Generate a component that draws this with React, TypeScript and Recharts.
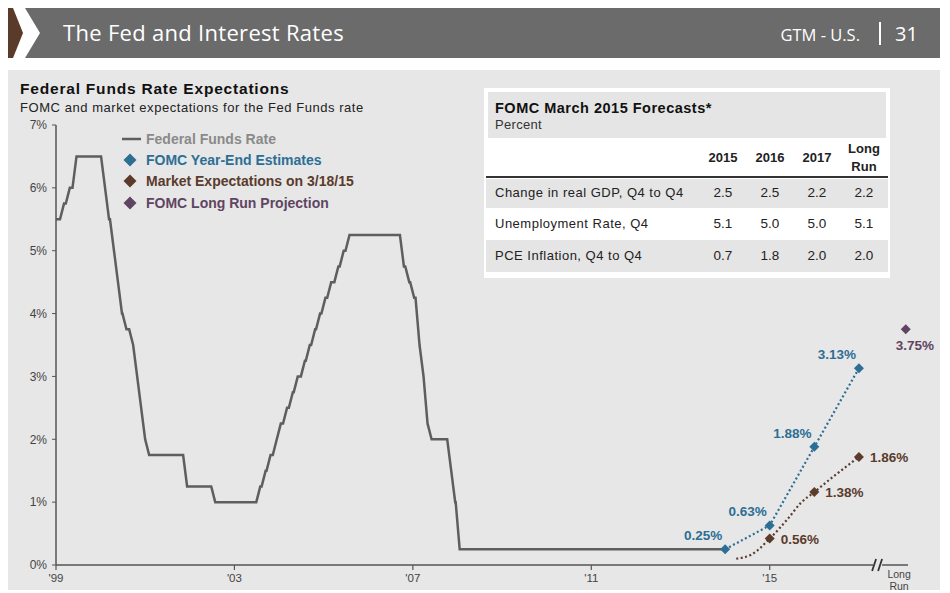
import React from "react";
import { ComposedChart, Line, Scatter, XAxis, YAxis } from "recharts";

// Federal funds target rate change points (decimal year, %)
const fedFundsDates = [
  2000.0, 2000.09, 2000.22, 2000.37, 2001.01, 2001.08, 2001.21, 2001.3, 2001.37, 2001.49,
  2001.64, 2001.71, 2001.75, 2001.85, 2001.94, 2002.85, 2003.48, 2004.49, 2004.61, 2004.72,
  2004.86, 2004.95, 2005.09, 2005.22, 2005.33, 2005.49, 2005.6, 2005.72, 2005.83, 2005.95,
  2006.08, 2006.24, 2006.36, 2006.49, 2007.71, 2007.83, 2007.94, 2008.06, 2008.08, 2008.21,
  2008.33, 2008.77, 2008.83, 2008.96, 2015.0,
];
const fedFundsRates = [
  5.5, 5.75, 6.0, 6.5, 6.0, 5.5, 5.0, 4.5, 4.0, 3.75,
  3.5, 3.0, 2.5, 2.0, 1.75, 1.25, 1.0, 1.25, 1.5, 1.75,
  2.0, 2.25, 2.5, 2.75, 3.0, 3.25, 3.5, 3.75, 4.0, 4.25,
  4.5, 4.75, 5.0, 5.25, 4.75, 4.5, 4.25, 3.5, 3.0, 2.25,
  2.0, 1.5, 1.0, 0.25, 0.25,
];

// FOMC year-end estimates
const fomcYears = [2015, 2016, 2017, 2018];
const fomcValues = [0.25, 0.63, 1.88, 3.13];
const fomcLabels = ["0.25%", "0.63%", "1.88%", "3.13%"];

// market expectations curve (as drawn) and its year-end markers
const marketCurveYears = [2015.25, 2015.6, 2016.0, 2016.4, 2016.7, 2017.0, 2017.45, 2018.0];
const marketCurveValues = [0.1, 0.17, 0.42, 0.73, 0.99, 1.16, 1.42, 1.72];
const marketYears = [2016, 2017, 2018];
const marketValues = [0.42, 1.16, 1.72];
const marketLabels = ["0.56%", "1.38%", "1.86%"];

const longRunYear = 2019.05;
const longRunValue = 3.75;
const longRunLabel = "3.75%";

const xTicks = [2000, 2004, 2008, 2012, 2016, 2018.9];
const xTickLabels = ["'99", "'03", "'07", "'11", "'15", "Long Run"];
const yTicks = [0, 1, 2, 3, 4, 5, 6, 7];

const legendNames = [
  "Federal Funds Rate",
  "FOMC Year-End Estimates",
  "Market Expectations on 3/18/15",
  "FOMC Long Run Projection",
];

const tableTitle = "FOMC March 2015 Forecasts*";
const tableColumns = ["2015", "2016", "2017", "Long Run"];
const tableRowNames = ["Change in real GDP, Q4 to Q4", "Unemployment Rate, Q4", "PCE Inflation, Q4 to Q4"];
const gdpValues = ["2.5", "2.5", "2.2", "2.2"];
const unemploymentValues = ["5.1", "5.0", "5.0", "5.1"];
const inflationValues = ["0.7", "1.8", "2.0", "2.0"];
const tableValues = [gdpValues, unemploymentValues, inflationValues];

const FONT = "'Liberation Sans', Arial, sans-serif";
const HEAD_FONT = "'Open Sans', sans-serif";
const PANEL = "#e7e7e7";
const GRAY_LINE = "#5e5e5e";
const BLUE = "#2d6e95";
const BROWN = "#5a3b2c";
const PURPLE = "#5f4562";
const PLOT_BOTTOM = 565;

const fedFunds = fedFundsDates.map((x, i) => ({ x, y: fedFundsRates[i] }));
const fomc = fomcYears.map((x, i) => ({ x, y: fomcValues[i], label: fomcLabels[i] }));
const marketCurve = marketCurveYears.map((x, i) => ({ x, y: marketCurveValues[i] }));
const market = marketYears.map((x, i) => ({ x, y: marketValues[i], label: marketLabels[i] }));
const longRun = [{ x: longRunYear, y: longRunValue, label: longRunLabel }];

// step curve whose risers lean forward over about a month, like a monthly-average series
function slantedStep(context: any) {
  let endX = 0;
  let py = 0;
  let started = false;
  const lean = 4;
  return {
    areaStart() {},
    areaEnd() {},
    lineStart() {
      started = false;
    },
    lineEnd() {},
    point(x: number, y: number) {
      if (!started) {
        context.moveTo(x, y);
        endX = x;
        started = true;
      } else {
        const sx = Math.max(x, endX);
        context.lineTo(sx, py);
        endX = y === py ? sx : sx + lean;
        context.lineTo(endX, y);
      }
      py = y;
    },
  };
}

function diamondShape(color: string, dx: number, dy: number, anchor: string) {
  return (props: any) => {
    const { cx, cy, payload } = props;
    const r = 5;
    return (
      <g>
        <polygon points={`${cx},${cy - r} ${cx + r},${cy} ${cx},${cy + r} ${cx - r},${cy}`} fill={color} />
        <text x={cx + dx} y={cy + dy} textAnchor={anchor} fontFamily={FONT} fontSize={13.5} fontWeight="bold" fill={color}>
          {payload.label}
        </text>
      </g>
    );
  };
}

function renderXTick(props: any) {
  const { x, payload } = props;
  const label = xTickLabels[xTicks.indexOf(payload.value)];
  if (label === "Long Run") {
    const bx = x - 21;
    return (
      <g>
        <rect x={bx - 5} y={PLOT_BOTTOM - 3} width={9} height={6} fill={PANEL} />
        <line x1={bx - 6} y1={PLOT_BOTTOM + 6} x2={bx - 2} y2={PLOT_BOTTOM - 6} stroke="#333" strokeWidth={1.8} />
        <line x1={bx} y1={PLOT_BOTTOM + 6} x2={bx + 4} y2={PLOT_BOTTOM - 6} stroke="#333" strokeWidth={1.8} />
        <text x={x} y={PLOT_BOTTOM + 13} textAnchor="middle" fontFamily={FONT} fontSize={10.5} fill="#444">
          <tspan x={x} dy={0}>Long</tspan>
          <tspan x={x} dy={12}>Run</tspan>
        </text>
      </g>
    );
  }
  return (
    <g>
      <line x1={x} y1={PLOT_BOTTOM} x2={x} y2={PLOT_BOTTOM + 5} stroke="#555" strokeWidth={1.2} />
      <text x={x} y={PLOT_BOTTOM + 17} textAnchor="middle" fontFamily={FONT} fontSize={11.5} fill="#444">
        {label}
      </text>
    </g>
  );
}

function Background() {
  const colX = [723, 770, 817, 864];
  const rowTop = [179, 208, 240];
  const rowH = [29, 32, 32];
  const rowFill = ["#e5e5e5", "#ffffff", "#e5e5e5"];
  const rowBase = [197, 228, 260];
  const legendY = [139, 160, 181, 203];
  const legendColors = ["#8a8a8a", BLUE, BROWN, PURPLE];
  return (
    <svg width={950} height={593} style={{ position: "absolute", left: 0, top: 0 }}>
      <rect x={0} y={0} width={950} height={593} fill="#ffffff" />
      {/* header bar */}
      <polygon points="8,8 13,8 23,33 13,58 8,58" fill="#5a3a28" />
      <polygon points="25,8 940,8 940,58 25,58 40,33" fill="#6b6b6b" />
      <text x={63} y={41} fontFamily={HEAD_FONT} fontSize={22} letterSpacing={0.3} fill="#ffffff">
        The Fed and Interest Rates
      </text>
      <text x={860} y={41} textAnchor="end" fontFamily={HEAD_FONT} fontSize={16.5} fill="#ffffff">
        GTM - U.S.
      </text>
      <rect x={879} y={22} width={2} height={23} fill="#ffffff" />
      <text x={895} y={41} fontFamily={HEAD_FONT} fontSize={20} fill="#ffffff">
        31
      </text>
      {/* panel */}
      <rect x={8} y={70} width={932} height={520} fill={PANEL} />
      <text x={20} y={94} fontFamily={FONT} fontSize={15.5} letterSpacing={0.8} fontWeight="bold" fill="#111">
        Federal Funds Rate Expectations
      </text>
      <text x={20} y={112} fontFamily={FONT} fontSize={13} letterSpacing={0.55} fill="#222">
        FOMC and market expectations for the Fed Funds rate
      </text>
      {/* legend */}
      {legendNames.map((name, i) => {
        const cy = legendY[i];
        return (
          <g key={name}>
            {i === 0 ? (
              <line x1={122} y1={cy} x2={141} y2={cy} stroke={GRAY_LINE} strokeWidth={2.5} />
            ) : (
              <polygon points={`130,${cy - 6.5} 136.5,${cy} 130,${cy + 6.5} 123.5,${cy}`} fill={legendColors[i]} />
            )}
            <text x={146} y={cy + 5} fontFamily={FONT} fontSize={14} fontWeight="bold" fill={legendColors[i]}>
              {name}
            </text>
          </g>
        );
      })}
      {/* forecast table */}
      <rect x={484} y={88} width={406} height={190} fill="#ffffff" />
      <rect x={488} y={92} width={398} height={46} fill="#e5e5e5" />
      <text x={495} y={113} fontFamily={FONT} fontSize={14.5} letterSpacing={0.5} fontWeight="bold" fill="#111">
        {tableTitle}
      </text>
      <text x={495} y={129} fontFamily={FONT} fontSize={13} letterSpacing={0.3} fill="#333">
        Percent
      </text>
      {tableColumns.map((c, j) =>
        c === "Long Run" ? (
          <text key={c} x={colX[j]} y={153} textAnchor="middle" fontFamily={FONT} fontSize={13} fontWeight="bold" fill="#222">
            <tspan x={colX[j]} dy={0}>Long</tspan>
            <tspan x={colX[j]} dy={18}>Run</tspan>
          </text>
        ) : (
          <text key={c} x={colX[j]} y={162} textAnchor="middle" fontFamily={FONT} fontSize={13} fontWeight="bold" fill="#222">
            {c}
          </text>
        )
      )}
      <line x1={486} y1={177} x2={888} y2={177} stroke="#333" strokeWidth={2} />
      {tableRowNames.map((name, i) => (
        <g key={name}>
          <rect x={486} y={rowTop[i]} width={402} height={rowH[i]} fill={rowFill[i]} />
          <text x={495} y={rowBase[i]} fontFamily={FONT} fontSize={13} letterSpacing={0.5} fill="#222">
            {name}
          </text>
          {tableValues[i].map((v, j) => (
            <text key={j} x={colX[j]} y={rowBase[i]} textAnchor="middle" fontFamily={FONT} fontSize={13.5} fill="#222">
              {v}
            </text>
          ))}
        </g>
      ))}
    </svg>
  );
}

export default function App() {
  return (
    <div style={{ position: "absolute", left: 0, top: 0, width: 950, height: 593, overflow: "hidden" }}>
      <Background />
      <div style={{ position: "absolute", left: 0, top: 0 }}>
        <ComposedChart width={950} height={593} margin={{ top: 125, right: 42, bottom: 2, left: 16 }}>
          <XAxis
            dataKey="x"
            type="number"
            domain={[2000, 2019.1]}
            ticks={xTicks}
            interval={0}
            tick={renderXTick}
            tickLine={false}
            axisLine={{ stroke: "#555", strokeWidth: 1.5 }}
            height={26}
          />
          <YAxis
            dataKey="y"
            type="number"
            domain={[0, 7]}
            ticks={yTicks}
            interval={0}
            width={40}
            tickSize={4}
            tickMargin={5}
            tickFormatter={(v: number) => `${v}%`}
            tick={{ fontSize: 12, fill: "#444", fontFamily: FONT }}
            axisLine={{ stroke: "#555", strokeWidth: 1.5 }}
            tickLine={{ stroke: "#555" }}
          />
          <Line
            data={fedFunds}
            dataKey="y"
            type={slantedStep as any}
            stroke={GRAY_LINE}
            strokeWidth={2.5}
            dot={false}
            isAnimationActive={false}
          />
          <Line
            data={fomc}
            dataKey="y"
            type="linear"
            stroke={BLUE}
            strokeWidth={2.2}
            strokeDasharray="2 2.5"
            dot={false}
            isAnimationActive={false}
          />
          <Line
            data={marketCurve}
            dataKey="y"
            type="monotone"
            stroke={BROWN}
            strokeWidth={2.2}
            strokeDasharray="2 2.5"
            dot={false}
            isAnimationActive={false}
          />
          <Scatter data={fomc} dataKey="y" shape={diamondShape(BLUE, -22, -9, "middle")} isAnimationActive={false} />
          <Scatter data={market} dataKey="y" shape={diamondShape(BROWN, 11, 5, "start")} isAnimationActive={false} />
          <Scatter data={longRun} dataKey="y" shape={diamondShape(PURPLE, 9, 21, "middle")} isAnimationActive={false} />
        </ComposedChart>
      </div>
    </div>
  );
}
